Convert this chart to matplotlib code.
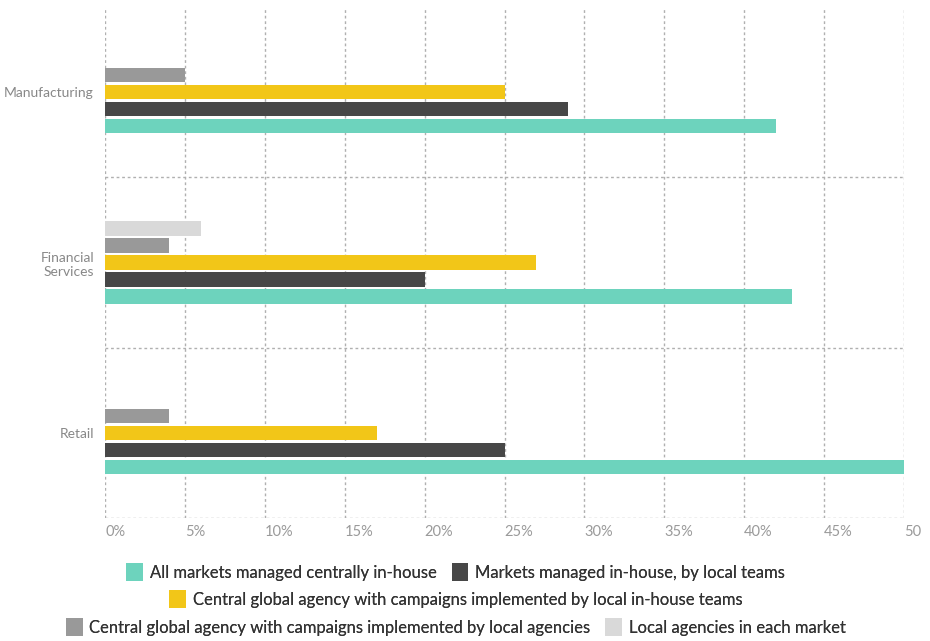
import numpy as np
import matplotlib.pyplot as plt
from matplotlib.patches import Patch

plt.rcParams['font.family'] = ['Lato', 'DejaVu Sans']

# Survey results by industry (% of respondents)
industries = ["Manufacturing", "Financial\nServices", "Retail"]
series_names = [
    "Local agencies in each market",
    "Central global agency with campaigns implemented by local agencies",
    "Central global agency with campaigns implemented by local in-house teams",
    "Markets managed in-house, by local teams",
    "All markets managed centrally in-house",
]
local_agencies = [0, 6, 0]
global_local_agencies = [5, 4, 4]
global_inhouse_teams = [25, 27, 17]
inhouse_local_teams = [29, 20, 25]
central_inhouse = [42, 43, 50]
colors = ["#d9d9d9", "#999999", "#f2c618", "#474747", "#6dd3bd"]

tick_vals = list(range(0, 55, 5))
tick_labels = [f"{v}%" for v in tick_vals[:-1]] + ["50"]

values = [local_agencies, global_local_agencies, global_inhouse_teams,
          inhouse_local_teams, central_inhouse]

fig = plt.figure(figsize=(9.3, 6.41), dpi=100)
ax = fig.add_axes([105 / 930, 1 - 518 / 641, (904 - 105) / 930, (518 - 7) / 641])

y = np.arange(len(industries))
step = 0.1
for k, (vals, c) in enumerate(zip(values, colors)):
    ax.barh(y + (k - 2) * step, vals, height=0.085, color=c, zorder=3)

ax.set_xlim(0, 50)
ax.set_ylim(2.5, -0.5)

grid_kw = dict(color="#b0b0b0", linewidth=1, linestyle=(0, (2, 2)), zorder=1)
for v in tick_vals:
    ax.axvline(v, **grid_kw)
for b in [0.5, 1.5, 2.5]:
    ax.axhline(b, **grid_kw)

for s in ax.spines.values():
    s.set_visible(False)

ax.set_xticks(tick_vals)
ax.set_xticklabels(tick_labels, ha="left", color="#9a9a9a", fontsize=10.5)
ax.set_yticks(y)
ax.set_yticklabels(industries, color="#888888", fontsize=10)
ax.tick_params(axis="both", length=0)
ax.tick_params(axis="x", pad=5)
ax.tick_params(axis="y", pad=8)

# Legend split over three centred rows
rows = [[4, 3], [2], [1, 0]]
row_y = [1 - 572 / 641, 1 - 599 / 641, 1 - 627 / 641]
for idx, ry in zip(rows, row_y):
    handles = [Patch(facecolor=colors[i], label=series_names[i]) for i in idx]
    leg = fig.legend(handles=handles, loc="center", bbox_to_anchor=(0.49, ry),
                     ncol=len(idx), frameon=False, fontsize=12,
                     handlelength=1.0, handleheight=1.2, handletextpad=0.4,
                     columnspacing=0.9, labelcolor="#333333",
                     borderpad=0.1)
    fig.add_artist(leg)

fig.savefig("out.png", dpi=100)
